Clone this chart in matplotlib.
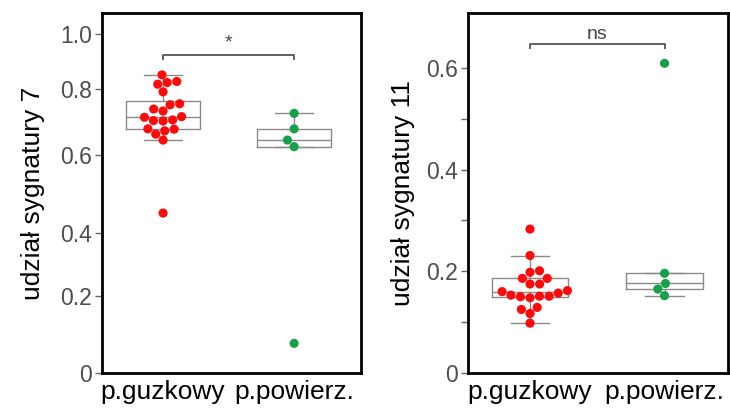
import numpy as np
import pandas as pd
import matplotlib
matplotlib.use("Agg")
import matplotlib.pyplot as plt
import seaborn as sns

plt.rcParams['font.family'] = ['Liberation Sans', 'DejaVu Sans']

groups = ['p.guzkowy', 'p.powierz.']
colors = ['#ff0a0a', '#17a04a']

# udział sygnatury 7
sig7_guzkowy = [0.851, 0.827, 0.817, 0.823, 0.791, 0.755, 0.752, 0.733, 0.739, 0.716,
                0.706, 0.704, 0.703, 0.714, 0.679, 0.663, 0.673, 0.678, 0.645, 0.451]
sig7_powierz = [0.726, 0.679, 0.645, 0.625, 0.077]

# udział sygnatury 11
sig11_guzkowy = [0.283, 0.231, 0.198, 0.201, 0.186, 0.186, 0.175, 0.175, 0.160, 0.153,
                 0.150, 0.162, 0.148, 0.151, 0.151, 0.157, 0.125, 0.129, 0.117, 0.098]
sig11_powierz = [0.609, 0.196, 0.176, 0.165, 0.152]

sig7_ticks = [0, 0.2, 0.4, 0.6, 0.8, 1.0]
sig11_ticks = [0, 0.2, 0.4, 0.6]
sig11_minor = [0.1, 0.3, 0.5]

# the left panel's axis in the source is not evenly spaced; follow its tick spacing
knot_vals = [-1.0, 0, 0.2, 0.4, 0.6, 0.8, 1.0, 2.0]
knot_pos = [-385, 0, 77, 140, 218, 284, 339, 614]


def fwd(v):
    return np.interp(v, knot_vals, knot_pos)


def inv(p):
    return np.interp(p, knot_pos, knot_vals)


def tick_fmt(v):
    return '0' if v == 0 else '%.1f' % v


def panel(ax, a, b, ylabel, ticks, xlim, ylim, bracket, mark, label_x):
    box_grey = '#8a8a8a'
    ax.boxplot([a, b], positions=[0, 1], widths=0.57, showfliers=False,
               boxprops=dict(color=box_grey, linewidth=1.0),
               medianprops=dict(color=box_grey, linewidth=1.0),
               whiskerprops=dict(color=box_grey, linewidth=1.0),
               capprops=dict(color=box_grey, linewidth=1.0), zorder=1)
    df = pd.DataFrame({'group': [groups[0]] * len(a) + [groups[1]] * len(b),
                       'value': list(a) + list(b)})
    sns.swarmplot(data=df, x='group', y='value', hue='group', palette=colors,
                  size=6.6, linewidth=0, legend=False, ax=ax, zorder=3)
    ax.set_xlim(*xlim)
    ax.set_ylim(*ylim)
    ax.set_xticks([0, 1])
    ax.set_xticklabels(groups, fontsize=19, color='black')
    ax.tick_params(axis='x', length=0, pad=5)
    ax.set_yticks(ticks)
    ax.set_yticklabels([tick_fmt(t) for t in ticks], fontsize=16.5, color='#4d4d4d')
    ax.tick_params(axis='y', length=5, width=1, color='#666666', pad=2)
    ax.set_xlabel('')
    ax.set_ylabel(ylabel, fontsize=19, color='black')
    ax.yaxis.set_label_coords(label_x, 0.5)
    for s in ax.spines.values():
        s.set_linewidth(2)
        s.set_color('black')
    y0, y1 = bracket
    ax.plot([0, 0, 1, 1], [y1, y0, y0, y1], color='#555555', linewidth=1.3,
            solid_capstyle='butt', clip_on=False)
    ax.text(0.5, mark[0], mark[1], ha='center', va='center',
            fontsize=mark[2], color='#444444')


fig = plt.figure(figsize=(7.3, 4.12), dpi=100)
ax1 = fig.add_axes([0.1397, 0.0947, 0.3548, 0.8738])
ax1.set_yscale('function', functions=(fwd, inv))
panel(ax1, sig7_guzkowy, sig7_powierz, 'udział sygnatury 7', sig7_ticks,
      (-0.466, 1.51), (0, 1.076), (0.924, 0.905), (0.968, '*', 14), -0.22)

ax2 = fig.add_axes([0.6411, 0.0947, 0.3562, 0.8738])
panel(ax2, sig11_guzkowy, sig11_powierz, 'udział sygnatury 11', sig11_ticks,
      (-0.461, 1.472), (0, 0.708), (0.647, 0.637), (0.666, 'ns', 14), -0.205)
ax2.set_yticks(sig11_minor, minor=True)
ax2.tick_params(axis='y', which='minor', length=5, width=1, color='#666666')

fig.savefig('out.png', dpi=100)
